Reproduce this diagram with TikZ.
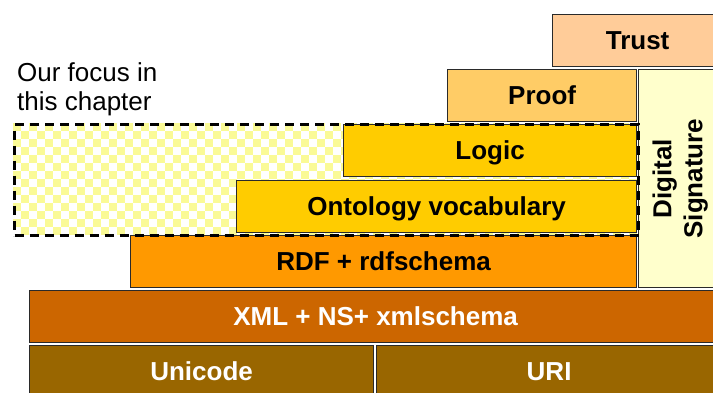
\documentclass[tikz,border=0pt]{standalone}
\usepackage{fontspec}
\setmainfont{Liberation Sans}
\definecolor{ctrust}{HTML}{FFCC99}
\definecolor{cproof}{HTML}{FFCC66}
\definecolor{clogic}{HTML}{FFCC00}
\definecolor{crdf}{HTML}{FF9900}
\definecolor{cxml}{HTML}{CC6600}
\definecolor{cbase}{HTML}{996600}
\definecolor{csig}{HTML}{FFFFCC}
\definecolor{cchk}{RGB}{250,250,150}
\definecolor{cline}{HTML}{2A2A2A}
\begin{document}
\begin{tikzpicture}[x=1pt,y=-1pt,
  layer/.style={draw=cline, line width=1.2pt, anchor=north west, inner sep=0pt,
    font=\fontsize{26}{30}\selectfont\bfseries, text height=18.6pt, text depth=0pt},
  focus/.style={draw=black, line width=3pt, dash pattern=on 9pt off 6pt,
    anchor=north west, inner sep=0pt},
  note/.style={anchor=north west, inner sep=0pt, align=left,
    font=\fontsize{26}{29}\selectfont}
]
\useasboundingbox (0,0) rectangle (713,392);
\clip (0,0) rectangle (713,392);
% checkered fill of the focus area
\begin{scope}
  \clip (13,123) rectangle (637,234);
  \fill[white] (13,123) rectangle (637,234);
  \foreach \i in {0,...,78}{
    \foreach \j in {0,...,14}{
      \pgfmathtruncatemacro\chkpar{mod(\i+\j,2)}
      \ifnum\chkpar=0
        \fill[cchk] (13+8*\i,123+8*\j) rectangle ++(8,8);
      \fi
    }
  }
\end{scope}
% layers
\node[layer, fill=ctrust, minimum width=170, minimum height=52] (trust) at (552,14) {Trust};
\node[layer, fill=cproof, minimum width=189, minimum height=52] (proof) at (447,69) {Proof};
\node[layer, fill=clogic, minimum width=293, minimum height=52] (logic) at (343,124) {Logic};
\node[layer, fill=clogic, minimum width=400, minimum height=52] (onto) at (236,180) {Ontology vocabulary};
\node[layer, fill=crdf, minimum width=506, minimum height=52] (rdf) at (130,235) {RDF + rdfschema};
\node[layer, fill=csig, minimum width=83, minimum height=218] (sig) at (638,69) {};
\node[inner sep=0pt, rotate=90, align=center, font=\fontsize{26}{31}\selectfont\bfseries]
  (siglabel) at (sig.center) {Digital\\Signature};
\node[layer, fill=cxml, text=white, minimum width=692, minimum height=52] (xml) at (29,290) {XML + NS+ xmlschema};
\node[layer, fill=cbase, text=white, minimum width=344, minimum height=52] (uni) at (29,345) {Unicode};
\node[layer, fill=cbase, text=white, minimum width=345, minimum height=52] (uri) at (376,345) {URI};
% focus outline
\node[focus, minimum width=624, minimum height=111] (focusbox) at (13,123) {};
\node[note] (focuslabel) at (17,62) {Our focus in\\this chapter};
\end{tikzpicture}
\end{document}
